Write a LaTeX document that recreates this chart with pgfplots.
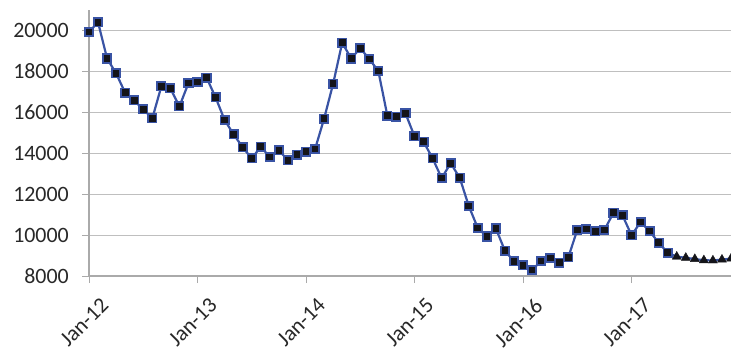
\documentclass[border=0pt]{standalone}
\usepackage{fontspec}
\setmainfont{Carlito}
\usepackage{pgfplots}
\pgfplotsset{compat=1.18}
\definecolor{lineblue}{RGB}{57,83,164}
\definecolor{gridgray}{RGB}{191,191,191}
\definecolor{axgray}{RGB}{170,170,170}
\definecolor{labgray}{RGB}{40,40,40}
\definecolor{mfill}{RGB}{20,20,25}
\begin{document}
\begin{tikzpicture}
\useasboundingbox (0,0) rectangle (731bp,350bp);
\begin{axis}[
  at={(89bp,74bp)}, anchor=south west,
  width=642bp, height=266bp, scale only axis,
  xmin=0, xmax=71, ymin=8000, ymax=21000,
  clip=false,
  axis x line*=bottom, axis y line*=left,
  axis line style={axgray, line width=1.2bp},
  xtick={0,12,24,36,48,60},
  xticklabels={Jan-12,Jan-13,Jan-14,Jan-15,Jan-16,Jan-17},
  ytick={8000,10000,...,20000},
  scaled y ticks=false,
  ymajorgrids, grid style={gridgray, line width=1bp},
  tick align=outside, major tick length=7bp,
  tick style={axgray, line width=1bp},
  /pgf/number format/1000 sep={},
  /pgf/number format/assume math mode=true,
  tick label style={font=\fontsize{22}{26}\selectfont, text=labgray, inner sep=0pt},
  yticklabel style={anchor=east, xshift=-13bp},
  xticklabel style={rotate=45, anchor=north east, xshift=-2bp, yshift=-17bp},
]
\addplot[lineblue, line width=2.2bp, mark=triangle*, mark size=5.2bp,
  mark indices={2,3,4,5,6,7,8},
  mark options={fill=mfill, draw=mfill, line width=0.4bp}]
  coordinates {
  (64,9140) (65,8945) (66,8890) (67,8830) (68,8770) (69,8760) (70,8800) (71,8850)
  };
\addplot[lineblue, line width=2.2bp, mark=square*, mark size=4.2bp,
  mark options={fill=mfill, draw=lineblue, line width=1.7bp}]
  coordinates {
  (0,19920) (1,20405) (2,18630) (3,17900) (4,16955) (5,16580) (6,16140) (7,15700)
  (8,17265) (9,17170) (10,16290) (11,17425) (12,17475) (13,17695) (14,16730) (15,15620)
  (16,14920) (17,14285) (18,13745) (19,14320) (20,13810) (21,14150) (22,13650) (23,13925)
  (24,14070) (25,14200) (26,15690) (27,17395) (28,19400) (29,18630) (30,19135) (31,18600)
  (32,18015) (33,15830) (34,15785) (35,15945) (36,14830) (37,14560) (38,13750) (39,12785)
  (40,13510) (41,12800) (42,11420) (43,10340) (44,9930) (45,10320) (46,9230) (47,8715)
  (48,8520) (49,8290) (50,8740) (51,8880) (52,8650) (53,8910) (54,10245) (55,10295)
  (56,10180) (57,10245) (58,11095) (59,10965) (60,9990) (61,10635) (62,10195) (63,9625)
  (64,9140)
  };
\end{axis}
\end{tikzpicture}
\end{document}
